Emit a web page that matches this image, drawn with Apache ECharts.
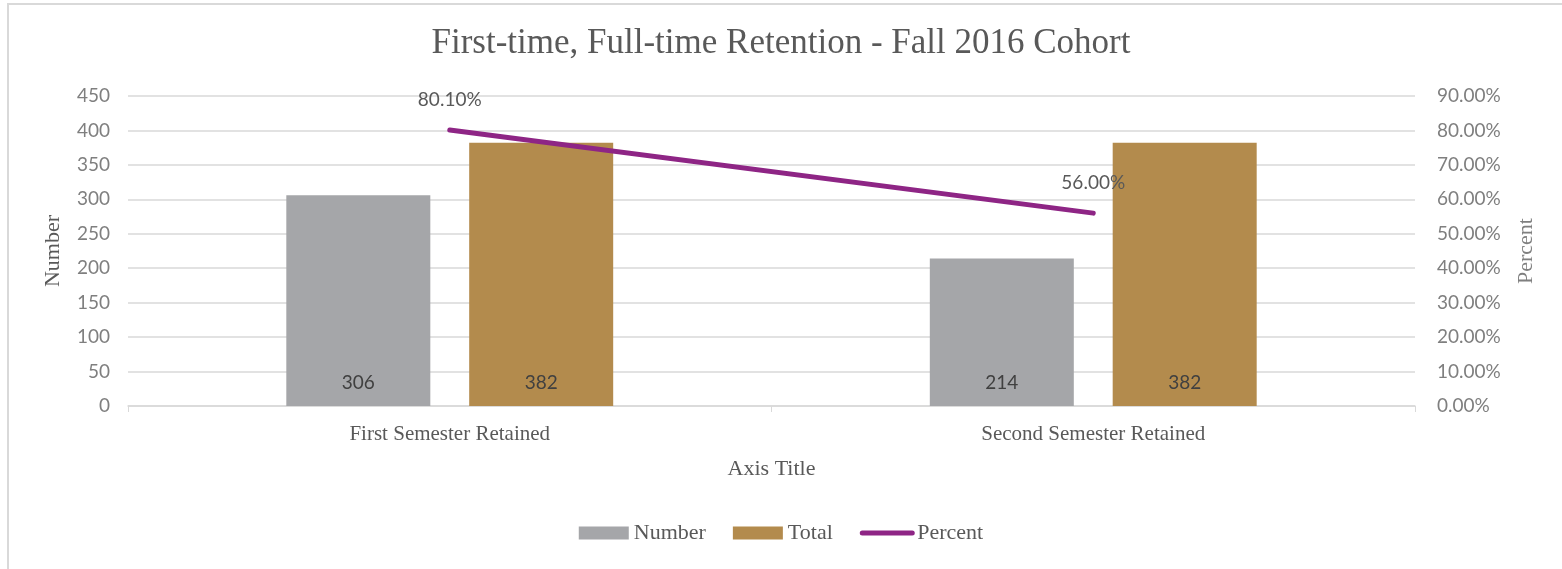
<!DOCTYPE html>
<html>
<head>
<meta charset="utf-8">
<script src="https://cdn.jsdelivr.net/npm/echarts@6/dist/echarts.min.js"></script>
<style>
  html, body { margin: 0; padding: 0; background: #fff; }
  #chart { width: 1562px; height: 569px; }
</style>
</head>
<body>
<div id="chart"></div>
<script>
const categories = ['First Semester Retained', 'Second Semester Retained'];
const numberValues = [306, 214];
const totalValues = [382, 382];
const percentValues = [80.1, 56.0];

const serif = 'Liberation Serif';
const sans = 'Lato';
const purple = '#8e2585';

const chart = echarts.init(document.getElementById('chart'));
chart.setOption({
  backgroundColor: '#fff',
  animation: false,
  graphic: [{
    type: 'rect',
    shape: { x: 8, y: 4, width: 1600, height: 600 },
    style: { fill: 'none', stroke: '#d9d9d9', lineWidth: 2 },
    silent: true
  }],
  title: {
    text: 'First-time, Full-time Retention - Fall 2016 Cohort',
    left: 'center',
    top: 21,
    textStyle: { fontFamily: serif, fontSize: 35, fontWeight: 'normal', color: '#595959' }
  },
  legend: {
    bottom: 20,
    left: 'center',
    itemWidth: 50,
    itemHeight: 13,
    itemGap: 27,
    textStyle: { fontFamily: serif, fontSize: 22, color: '#595959' },
    data: [
      { name: 'Number', icon: 'rect' },
      { name: 'Total', icon: 'rect' },
      {
        name: 'Percent',
        itemStyle: { color: 'rgba(0,0,0,0)', borderColor: 'rgba(0,0,0,0)', borderWidth: 0 },
        lineStyle: { color: purple, width: 5, cap: 'round' }
      }
    ]
  },
  grid: { left: 128, right: 147, top: 96, bottom: 163 },
  xAxis: {
    type: 'category',
    data: categories,
    name: 'Axis Title',
    nameLocation: 'middle',
    nameGap: 52,
    nameTextStyle: { fontFamily: serif, fontSize: 22, color: '#595959' },
    axisLine: { lineStyle: { color: '#d9d9d9', width: 1.5 } },
    axisTick: { show: true, length: 6, lineStyle: { color: '#d9d9d9' } },
    axisLabel: { fontFamily: serif, fontSize: 21, color: '#595959', margin: 18 }
  },
  yAxis: [{
    type: 'value',
    min: 0, max: 450, interval: 50,
    name: 'Number',
    nameLocation: 'middle',
    nameGap: 64,
    nameRotate: 90,
    nameTextStyle: { fontFamily: serif, fontSize: 22, color: '#595959' },
    axisLine: { show: false },
    axisTick: { show: false },
    axisLabel: { fontFamily: sans, fontSize: 19, color: '#7f7f7f', margin: 18 },
    splitLine: { lineStyle: { color: '#d9d9d9', width: 1.5 } }
  }, {
    type: 'value',
    min: 0, max: 90, interval: 10,
    name: 'Percent',
    nameLocation: 'middle',
    nameGap: 100,
    nameRotate: 90,
    nameTextStyle: { fontFamily: serif, fontSize: 22, color: '#7f7f7f' },
    axisLine: { show: false },
    axisTick: { show: false },
    axisLabel: { fontFamily: sans, fontSize: 19, color: '#7f7f7f', margin: 22, formatter: (v) => v.toFixed(2) + '%' },
    splitLine: { show: false }
  }],
  series: [{
    name: 'Number',
    type: 'bar',
    data: numberValues,
    barWidth: 144,
    barGap: '27%',
    itemStyle: { color: '#a5a6a9' },
    label: { show: true, position: 'insideBottom', distance: 14, fontFamily: sans, fontSize: 19, color: '#404040' }
  }, {
    name: 'Total',
    type: 'bar',
    data: totalValues,
    barWidth: 144,
    barGap: '27%',
    itemStyle: { color: '#b38b4d' },
    label: { show: true, position: 'insideBottom', distance: 14, fontFamily: sans, fontSize: 19, color: '#404040' }
  }, {
    name: 'Percent',
    type: 'line',
    yAxisIndex: 1,
    data: percentValues,
    symbol: 'circle',
    symbolSize: 1,
    lineStyle: { color: purple, width: 5, cap: 'round' },
    itemStyle: { color: purple },
    label: { show: true, position: 'top', distance: 20, fontFamily: sans, fontSize: 19, color: '#595959', formatter: (p) => p.value.toFixed(2) + '%' }
  }]
});
</script>
</body>
</html>
